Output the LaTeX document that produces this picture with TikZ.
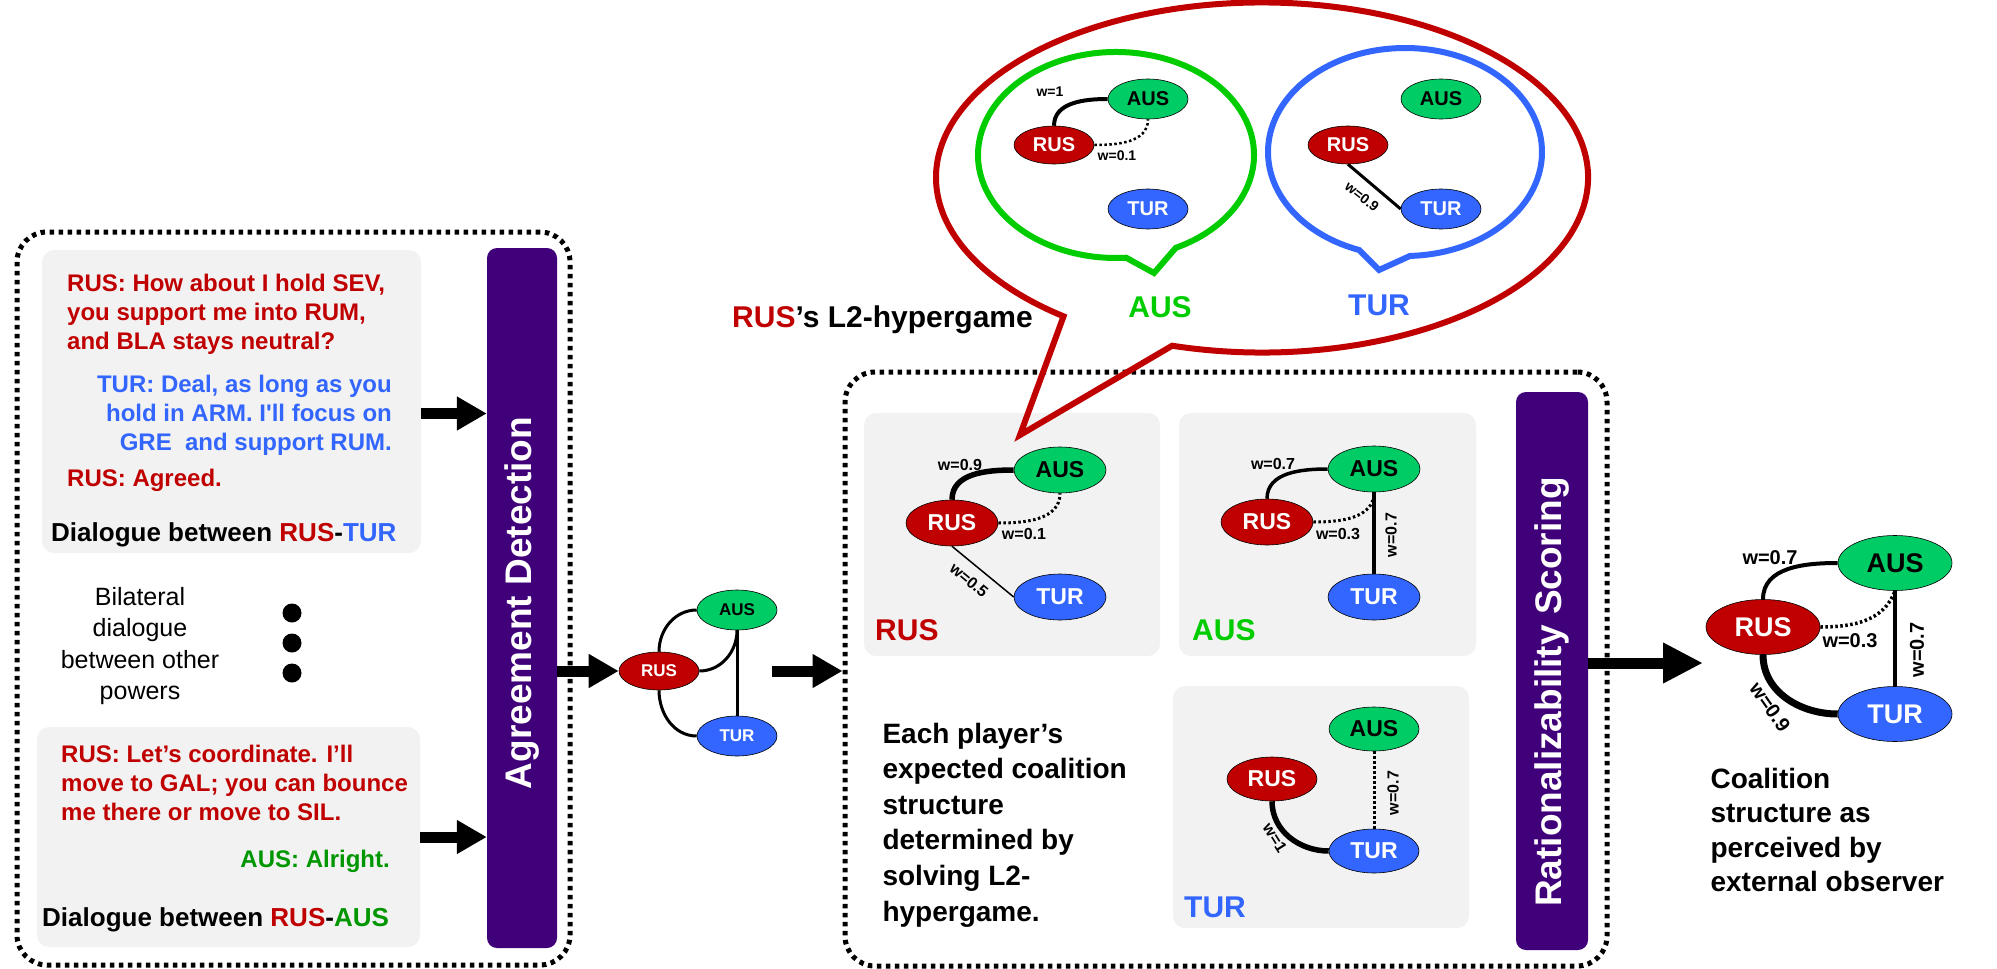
\documentclass[tikz,border=0pt]{standalone}
\usepackage{fontspec}
\setmainfont{Liberation Sans}
\usetikzlibrary{arrows.meta,shapes.geometric,positioning,calc}

\definecolor{rusred}{RGB}{192,0,0}
\definecolor{turblue}{RGB}{51,102,255}
\definecolor{ausfill}{RGB}{0,204,102}
\definecolor{ausgreen}{RGB}{0,204,0}
\definecolor{ausdark}{RGB}{0,150,0}
\definecolor{barpurple}{RGB}{64,0,122}
\definecolor{panelgray}{RGB}{242,242,242}

\newcommand{\fs}[2]{\fontsize{#1}{#2}\selectfont}

\begin{document}
\begin{tikzpicture}[x=1pt,y=1pt,
  panel/.style={fill=panelgray, rounded corners=12pt, inner sep=0pt},
  dotbox/.style={draw, line width=5pt, dash pattern=on 4.5pt off 4.5pt, rounded corners=30pt, inner sep=0pt},
  bar/.style={fill=barpurple, rounded corners=10pt, inner sep=0pt},
  bartext/.style={text=white, font=\bfseries\fs{37}{37}, inner sep=0pt},
  fatarrow/.style={line width=11pt, -{Triangle[length=30pt,width=32pt]}},
  dlg/.style={font=\bfseries\fs{24}{29}, inner sep=0pt},
  pow/.style={ellipse, draw=black, line width=0.6pt, inner sep=0pt},
  rus/.style={pow, fill=rusred, text=white},
  aus/.style={pow, fill=ausfill, text=black},
  tur/.style={pow, fill=turblue, text=white},
  mid/.style={minimum width=80pt, minimum height=38pt, font=\bfseries\fs{17}{17}},
  pan/.style={minimum width=92pt, minimum height=46pt, font=\bfseries\fs{23}{23}},
  bub/.style={minimum width=80pt, minimum height=40pt, font=\bfseries\fs{20}{20}},
  fin/.style={minimum width=114pt, minimum height=55pt, font=\bfseries\fs{27}{27}},
  wlab/.style={font=\bfseries\fs{16}{16}, inner sep=1pt},
  link/.style={line width=3pt},
  dots/.style={line width=3pt, dash pattern=on 2.5pt off 2.5pt},
  bigname/.style={font=\bfseries\fs{30}{30}, inner sep=0pt}
]
  \useasboundingbox (0,0) rectangle (1997,-969);

  % Left part: dialogues
  \node[dotbox, minimum width=553pt, minimum height=733pt] (box1) at (293.5,-598.5) {};
  \node[panel, minimum width=379pt, minimum height=303pt] (g1) at (231.5,-401.5) {};
  \node[panel, minimum width=383pt, minimum height=220pt] (g2) at (228.5,-837) {};

  \foreach \t [count=\i] in {{RUS: How about I hold SEV,},{you support me into RUM,},{and BLA stays neutral?}}
    \node[dlg, text=rusred, anchor=base west] (ra\i) at (67,-262-29*\i) {\t};
  \foreach \t [count=\i] in {{TUR: Deal, as long as you},{hold in ARM. I\textquotesingle ll focus on},{GRE\ \ and support RUM.}}
    \node[dlg, text=turblue, anchor=base east] (ta\i) at (392,-363-29*\i) {\t};
  \node[dlg, text=rusred, anchor=base west] (rb1) at (67,-486) {RUS: Agreed.};
  \node[dlg, font=\bfseries\fs{26}{26}, anchor=base west] (cap1) at (51,-541)
    {Dialogue between \textcolor{rusred}{RUS}-\textcolor{turblue}{TUR}};

  \node[font=\fs{25}{31.5}, align=center] (bil) at (140,-646) {Bilateral\\dialogue\\between other\\powers};
  \foreach \y in {613,643,673}
    \fill (292,-\y) circle (9.5pt);

  \foreach \t [count=\i] in {{RUS: Let’s coordinate. I’ll},{move to GAL; you can bounce},{me there or move to SIL.}}
    \node[dlg, text=rusred, anchor=base west] (rc\i) at (61,-733-29*\i) {\t};
  \node[dlg, text=ausdark, anchor=base east] (aa1) at (390,-867) {AUS: Alright.};
  \node[dlg, font=\bfseries\fs{26}{26}, anchor=base west] (cap2) at (42,-926)
    {Dialogue between \textcolor{rusred}{RUS}-\textcolor{ausdark}{AUS}};

  % Agreement detection bar
  \node[bar, minimum width=70pt, minimum height=700pt] (bar1) at (522,-598) {};
  \node[bartext, rotate=90] (bar1t) at (522,-603) {Agreement Detection};
  \draw[fatarrow] ([yshift=-12pt]g1.east) -- ([yshift=-12pt]g1.east -| bar1.west);
  \draw[fatarrow] (g2.east) -- (g2.east -| bar1.west);

  % Detected coalition graph
  \node[rus, mid] (mRUS) at (659,-671) {RUS};
  \node[aus, mid, minimum height=40pt] (mAUS) at (737,-610) {AUS};
  \node[tur, mid, minimum height=40pt] (mTUR) at (737,-736) {TUR};
  \draw[link] (mRUS.north) to[out=90,in=180] (mAUS.west);
  \draw[link] (mRUS.east) to[out=0,in=-90] (mAUS.south);
  \draw[link] (mAUS.south) -- (mTUR.north);
  \draw[link] (mRUS.south) to[out=-90,in=180] (mTUR.west);
  \draw[fatarrow] (bar1.east |- mRUS.west) -- (mRUS.west);

  % Middle part: L2-hypergame
  \node[dotbox, minimum width=762pt, minimum height=594pt] (box2) at (1226,-669) {};
  \coordinate (m4) at (772,-671);
  \draw[fatarrow] (m4) -- (box2.west |- m4);

  \node[panel, minimum width=296pt, minimum height=243pt] (pR) at (1012,-534.5) {};
  \node[panel, minimum width=297pt, minimum height=243pt] (pA) at (1327.5,-534.5) {};
  \node[panel, minimum width=296pt, minimum height=242pt] (pT) at (1321,-807) {};

  % RUS panel
  \node[rus, pan] (rRUS) at (952,-523) {RUS};
  \node[aus, pan] (rAUS) at (1060,-470) {AUS};
  \node[tur, pan] (rTUR) at (1060,-597) {TUR};
  \draw[line width=5.5pt] (rRUS.north) to[out=90,in=180] (rAUS.west);
  \draw[dots] (rRUS.east) to[out=0,in=-90] (rAUS.south);
  \draw[line width=1.5pt] (rRUS.south) -- (rTUR.west);
  \node[wlab] (lr1) at (960,-465) {w=0.9};
  \node[wlab] (lr2) at (1024,-534) {w=0.1};
  \node[wlab, rotate=-40] (lr3) at (969,-580) {w=0.5};
  \node[bigname, text=rusred, anchor=west] (nR) at (875,-630) {RUS};

  % AUS panel
  \node[rus, pan] (aRUS) at (1267,-522) {RUS};
  \node[aus, pan] (aAUS) at (1374,-469) {AUS};
  \node[tur, pan] (aTUR) at (1374,-597) {TUR};
  \draw[line width=3.5pt] (aRUS.north) to[out=90,in=180] (aAUS.west);
  \draw[dots] (aRUS.east) to[out=0,in=-90] (aAUS.south);
  \draw[line width=3.5pt] (aAUS.south) -- (aTUR.north);
  \node[wlab] (la1) at (1273,-464) {w=0.7};
  \node[wlab] (la2) at (1338,-534) {w=0.3};
  \node[wlab, rotate=90] (la3) at (1391,-535) {w=0.7};
  \node[bigname, text=ausgreen, anchor=west] (nA) at (1192,-630) {AUS};

  % TUR panel
  \node[rus, pan, minimum width=90pt, minimum height=44pt] (tRUS) at (1272,-779) {RUS};
  \node[aus, pan, minimum width=90pt, minimum height=44pt] (tAUS) at (1374,-729) {AUS};
  \node[tur, pan, minimum width=90pt, minimum height=44pt] (tTUR) at (1374,-851) {TUR};
  \draw[line width=5.5pt] (tRUS.south) to[out=-90,in=180] (tTUR.west);
  \draw[dots] (tAUS.south) -- (tTUR.north);
  \node[wlab, rotate=-58] (lt1) at (1275,-838) {w=1};
  \node[wlab, rotate=90] (lt2) at (1393,-793) {w=0.7};
  \node[bigname, text=turblue, anchor=west] (nT) at (1184,-907) {TUR};

  \node[font=\bfseries\fs{28}{35.6}, align=left, anchor=west] (each) at (879,-825)
    {Each player’s\\expected coalition\\structure\\determined by\\solving L2-\\hypergame.};

  % Rationalizability scoring bar
  \node[bar, minimum width=72pt, minimum height=558pt] (bar2) at (1552,-671) {};
  \node[bartext, rotate=90] (bar2t) at (1552,-692) {Rationalizability Scoring};

  % Final coalition structure
  \node[rus, fin] (fRUS) at (1763,-627) {RUS};
  \node[aus, fin] (fAUS) at (1895,-563) {AUS};
  \node[tur, fin] (fTUR) at (1895,-714) {TUR};
  \draw[line width=4pt] (fRUS.north) to[out=90,in=180] (fAUS.west);
  \draw[dots, line width=3.5pt] (fRUS.east) to[out=0,in=-110] (fAUS.south);
  \draw[line width=4pt] (fAUS.south) -- (fTUR.north);
  \draw[line width=7pt] (fRUS.south) to[out=-90,in=180] (fTUR.west);
  \node[wlab, font=\bfseries\fs{20}{20}] (lf1) at (1770,-558) {w=0.7};
  \node[wlab, font=\bfseries\fs{20}{20}] (lf2) at (1850,-641) {w=0.3};
  \node[wlab, font=\bfseries\fs{20}{20}, rotate=90] (lf3) at (1917,-650) {w=0.7};
  \node[wlab, font=\bfseries\fs{20}{20}, rotate=-55] (lf4) at (1770,-707) {w=0.9};
  \coordinate (fin) at (1703,-663);
  \draw[fatarrow, -{Triangle[length=40pt,width=38pt]}] (bar2.east |- fin) -- (fin);

  \node[font=\bfseries\fs{28}{34.4}, align=left, anchor=west] (coal) at (1707,-830)
    {Coalition\\structure as\\perceived by\\external observer};

  % Speech bubbles
  \coordinate (rb) at (1262,-177.5);
  \coordinate (rtip) at (1020,-435);
  \draw[rusred, line width=6pt, line join=miter]
    ($(rb)+(-106:326pt and 175pt)$) arc[start angle=-106, end angle=232.5, x radius=326pt, y radius=175pt]
    -- (rtip) -- cycle;
  \node[bigname, anchor=west] (hg) at (732,-320) {\textcolor{rusred}{RUS}’s L2-hypergame};

  \coordinate (gb) at (1116,-155);
  \coordinate (gtip) at (1154,-273);
  \draw[ausgreen, line width=6pt, line join=miter]
    ($(gb)+(-64.3:138pt and 103pt)$) arc[start angle=-64.3, end angle=274.2, x radius=138pt, y radius=103pt]
    -- (gtip) -- cycle;
  \coordinate (bb) at (1405,-152);
  \coordinate (btip) at (1379,-270);
  \draw[turblue, line width=6pt, line join=miter]
    ($(bb)+(-87.9:137pt and 104pt)$) arc[start angle=-87.9, end angle=250.5, x radius=137pt, y radius=104pt]
    -- (btip) -- cycle;
  \node[bigname, text=ausgreen] (sA) at (1160,-307) {AUS};
  \node[bigname, text=turblue] (sT) at (1379,-305) {TUR};

  % AUS's view
  \node[aus, bub] (gAUS) at (1148,-99) {AUS};
  \node[rus, bub, minimum height=38pt] (gRUS) at (1054,-145) {RUS};
  \node[tur, bub] (gTUR) at (1148,-209) {TUR};
  \draw[line width=4pt] (gRUS.north) to[out=90,in=180] (gAUS.west);
  \draw[dots, line width=2.5pt] (gRUS.east) to[out=0,in=-90] (gAUS.south);
  \node[wlab, font=\bfseries\fs{14}{14}] (lg1) at (1050,-92) {w=1};
  \node[wlab, font=\bfseries\fs{14}{14}] (lg2) at (1117,-156) {w=0.1};

  % TUR's view
  \node[aus, bub] (bAUS) at (1441,-99) {AUS};
  \node[rus, bub, minimum height=38pt] (bRUS) at (1348,-145) {RUS};
  \node[tur, bub] (bTUR) at (1441,-209) {TUR};
  \draw[line width=3pt] (bRUS.south) -- (bTUR.west);
  \node[wlab, font=\bfseries\fs{14}{14}, rotate=-38] (lb1) at (1362,-197) {w=0.9};
\end{tikzpicture}
\end{document}
